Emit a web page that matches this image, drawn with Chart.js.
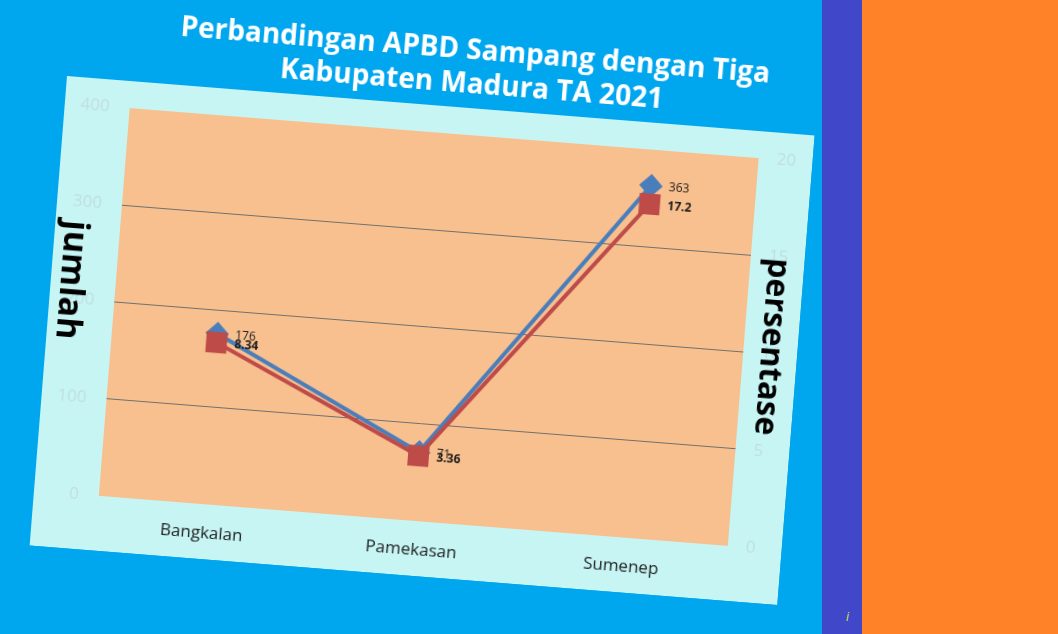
<!DOCTYPE html>
<html>
<head>
<meta charset="utf-8">
<script src="https://cdn.jsdelivr.net/npm/chart.js@4"></script>
<style>
  html, body { margin: 0; padding: 0; }
  body { width: 1058px; height: 634px; overflow: hidden; background: #00A6EE; position: relative; font-family: 'Open Sans', sans-serif; }
  #stripPurple { position: absolute; left: 822px; top: 0; width: 40px; height: 634px; background: #4147C9; }
  #stripOrange { position: absolute; left: 862px; top: 0; width: 196px; height: 634px; background: #FF8128; }
  #mark { position: absolute; left: 846px; top: 608px; color: #C8F03A; font-size: 12px; font-style: italic; }
  #frame { position: absolute; left: 67px; top: 76px; width: 750px; height: 471px; transform: rotate(4.55deg); transform-origin: 0 0; }
  #graph { position: absolute; left: 0; top: -80px; }
</style>
</head>
<body>
<div id="stripPurple"></div>
<div id="stripOrange"></div>
<div id="mark">i</div>
<div id="frame"><canvas id="graph" width="750" height="551"></canvas></div>
<script>
var categories = ['Bangkalan', 'Pamekasan', 'Sumenep'];
var jumlah = [176, 71, 363];
var persentase = [8.34, 3.36, 17.2];
var jumlahLabels = ['176', '71', '363'];
var persentaseLabels = ['8.34', '3.36', '17.2'];
var jumlahRange = [0, 400, 100];
var persentaseRange = [0, 20, 5];
var titleLines = ['Perbandingan APBD Sampang dengan Tiga', 'Kabupaten Madura TA 2021'];

// panel + plot background
var backgroundPlugin = {
    id: 'backgroundPlugin',
    beforeDraw: function (chart) {
        var ctx = chart.ctx;
        var a = chart.chartArea;
        ctx.save();
        ctx.fillStyle = '#C7F5F4';
        ctx.fillRect(0, 80, chart.width, chart.height - 80);
        ctx.fillStyle = '#F9C08F';
        ctx.fillRect(a.left, a.top, a.right - a.left, a.bottom - a.top);
        ctx.restore();
    }
};

var textPlugin = {
    id: 'textPlugin',
    afterDraw: function (chart) {
        var ctx = chart.ctx;
        ctx.save();
        // title
        ctx.fillStyle = '#ffffff';
        ctx.font = 'bold 28px "Open Sans"';
        ctx.textAlign = 'center';
        ctx.textBaseline = 'middle';
        ctx.fillText(titleLines[0], 405, 23);
        ctx.fillText(titleLines[1], 404, 57);

        // axis titles, reading top to bottom
        ctx.fillStyle = '#000000';
        ctx.save();
        ctx.font = 'bold 34px "Open Sans"';
        ctx.translate(20, 283);
        ctx.rotate(Math.PI / 2);
        ctx.fillText('jumlah', 0, 0);
        ctx.restore();
        ctx.save();
        ctx.font = 'bold 32px "Open Sans"';
        ctx.translate(723, 294);
        ctx.rotate(Math.PI / 2);
        ctx.fillText('persentase', 0, 0);
        ctx.restore();
        ctx.restore();
    },
    afterDatasetsDraw: function (chart) {
        var ctx = chart.ctx;
        ctx.save();
        ctx.textAlign = 'left';
        ctx.textBaseline = 'middle';
        ctx.fillStyle = '#1a1a1a';
        chart.data.datasets.forEach(function (ds, i) {
            var meta = chart.getDatasetMeta(i);
            ctx.font = (ds.label === 'persentase' ? 'bold ' : '') + '12px "Open Sans"';
            var texts = ds.label === 'persentase' ? persentaseLabels : jumlahLabels;
            meta.data.forEach(function (pt, j) {
                ctx.fillText(texts[j], pt.x + 18, pt.y + 1);
            });
        });
        ctx.restore();
    }
};

var tickFont = { family: 'Open Sans', size: 17 };

new Chart(document.getElementById('graph'), {
    type: 'line',
    data: {
        labels: categories,
        datasets: [
            {
                label: 'jumlah',
                data: jumlah,
                yAxisID: 'y',
                borderColor: '#4A7EBB',
                backgroundColor: '#4A7EBB',
                borderWidth: 4,
                pointStyle: 'rectRot',
                pointRadius: 9,
                order: 1
            }, {
                label: 'persentase',
                data: persentase,
                yAxisID: 'y1',
                borderColor: '#BE4B48',
                backgroundColor: '#BE4B48',
                borderWidth: 4,
                pointStyle: 'rect',
                pointRadius: 12,
                order: 0
            }
        ]
    },
    options: {
        responsive: false,
        animation: false,
        layout: { padding: { top: 107, left: 0, right: 0, bottom: 0 } },
        plugins: {
            legend: { display: false },
            tooltip: { enabled: false },
            title: { display: false }
        },
        scales: {
            x: {
                offset: true,
                grid: { display: false, drawTicks: false },
                border: { display: false },
                ticks: { color: '#222222', font: tickFont, padding: 19 },
                afterFit: function (s) { s.height = 55; }
            },
            y: {
                position: 'left',
                min: jumlahRange[0],
                max: jumlahRange[1],
                ticks: { stepSize: jumlahRange[2], color: '#C0DEDE', font: tickFont, padding: 20 },
                grid: {
                    drawTicks: false,
                    color: function (c) {
                        var v = c.tick ? c.tick.value : 0;
                        return (v === jumlahRange[0] || v === jumlahRange[1]) ? 'rgba(0,0,0,0)' : '#707070';
                    }
                },
                border: { display: false },
                afterFit: function (s) { s.width = 65; }
            },
            y1: {
                position: 'right',
                min: persentaseRange[0],
                max: persentaseRange[1],
                ticks: { stepSize: persentaseRange[2], color: '#C0DEDE', font: tickFont, padding: 18 },
                grid: { display: false, drawTicks: false },
                border: { display: false },
                afterFit: function (s) { s.width = 54; }
            }
        }
    },
    plugins: [backgroundPlugin, textPlugin]
});
</script>
</body>
</html>
